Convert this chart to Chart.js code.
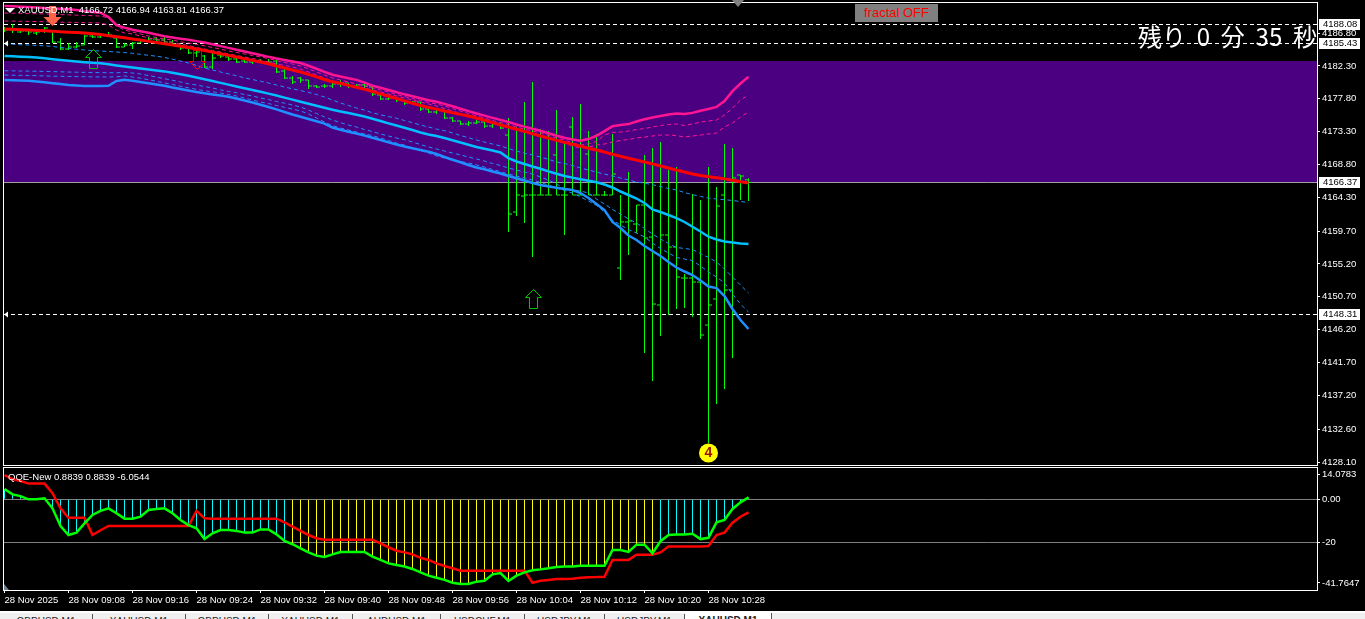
<!DOCTYPE html>
<html>
<head>
<meta charset="utf-8">
<title>XAUUSD,M1</title>
<script src="https://cdn.jsdelivr.net/npm/chart.js@4"></script>
<style>
html, body { margin: 0; padding: 0; width: 1365px; height: 619px; overflow: hidden; background: #000; }
canvas { position: absolute; left: 0; }
#main { top: 0; }
#sub { top: 466px; }
.lbl { position: absolute; color: #fff; font: 9.5px "Liberation Sans", sans-serif; white-space: pre; line-height: 12px; }
#head { left: 18px; top: 4px; }
#qqe { left: 8px; top: 471px; }
#timer { left: 1138px; top: 20px; width: 179px; height: 34px; overflow: hidden; font: 24px/32px "Noto Sans CJK JP", sans-serif; }
#fractal { left: 855px; top: 4px; width: 83px; height: 18px; background: #808080; color: #ff0000; font: 13px/18px "Liberation Sans", sans-serif; text-align: center; }
#tri { position: absolute; left: 732px; top: 0; width: 0; height: 0; border-left: 6px solid transparent; border-right: 6px solid transparent; border-top: 7px solid #808080; }
#mark { position: absolute; left: 5px; top: 8px; width: 0; height: 0; border-left: 5px solid transparent; border-right: 5px solid transparent; border-top: 5px solid #fff; }
#tabs { position: absolute; left: 0; top: 611px; width: 1365px; height: 8px; background: #f0f0f0; border-top: 2px solid #fff; overflow: hidden; box-sizing: border-box; }
.tab { position: absolute; top: 1px; height: 12px; border-right: 1px solid #555; color: #222; font: 10px/12px "Liberation Sans", sans-serif; text-align: center; padding-top: 2px; box-sizing: content-box; }
.tab.on { background: #fff; font-weight: bold; top: 0; }
</style>
</head>
<body>
<canvas id="main" width="1365" height="466"></canvas>
<canvas id="sub" width="1365" height="146"></canvas>
<div id="mark"></div>
<div id="head" class="lbl">XAUUSD,M1  4166.72 4166.94 4163.81 4166.37</div>
<div id="qqe" class="lbl">QQE-New 0.8839 0.8839 -6.0544</div>
<div id="timer" class="lbl">残り  0  分  35  秒</div>
<div id="fractal" class="lbl">fractal OFF</div>
<div id="tri"></div>
<div id="tabs"></div>
<script>
var timeLabels = ["28 Nov 2025", "28 Nov 09:08", "28 Nov 09:16", "28 Nov 09:24", "28 Nov 09:32", "28 Nov 09:40", "28 Nov 09:48", "28 Nov 09:56", "28 Nov 10:04", "28 Nov 10:12", "28 Nov 10:20", "28 Nov 10:28"];
var priceTicks = [4186.80, 4182.30, 4177.80, 4173.30, 4168.80, 4164.30, 4159.70, 4155.20, 4150.70, 4146.20, 4141.70, 4137.20, 4132.60, 4128.10];
var priceBoxes = [4188.08, 4185.43, 4166.37, 4148.31];
var tabNames = ["GBPUSD,M1", "XAUUSD,M1", "GBPUSD,M1", "XAUUSD,M1", "AUDUSD,M1", "USDCHF,M1", "USDJPY,M1", "USDJPY,M1", "XAUUSD,M1"];

var opens = [4187.36,4187.22,4186.95,4187.09,4186.81,4187.22,4187.09,4185.58,4184.62,4184.90,4185.17,4186.40,4186.27,4186.54,4186.13,4184.90,4185.17,4185.45,4185.72,4185.99,4185.86,4185.58,4185.31,4184.76,4184.08,4183.67,4182.16,4183.80,4183.53,4183.26,4182.98,4182.84,4182.98,4182.84,4182.98,4181.61,4180.65,4180.65,4180.38,4179.56,4179.56,4179.56,4179.83,4179.97,4179.56,4179.70,4179.42,4178.33,4177.78,4177.92,4177.64,4177.23,4177.37,4176.41,4176.00,4176.27,4175.18,4174.77,4174.36,4174.50,4174.63,4174.08,4174.36,4172.85,4162.31,4164.50,4164.64,4164.64,4164.64,4170.12,4164.64,4173.95,4164.64,4170.25,4164.64,4164.64,4164.64,4154.65,4160.95,4160.67,4163.27,4158.89,4149.59,4159.17,4157.52,4153.28,4153.28,4152.73,4146.85,4150.41,4164.64,4151.64,4167.38,4166.72];
var highs = [4187.63,4188.05,4187.36,4187.22,4187.36,4187.63,4187.22,4186.13,4185.45,4185.58,4186.54,4186.54,4186.81,4186.95,4186.13,4185.45,4185.58,4185.86,4186.27,4186.27,4186.27,4185.86,4185.17,4184.76,4184.62,4183.80,4184.21,4184.21,4183.80,4183.39,4183.12,4183.12,4183.26,4183.26,4183.12,4181.89,4180.93,4180.79,4180.38,4179.70,4179.83,4180.11,4180.38,4179.97,4179.83,4179.83,4179.42,4178.60,4178.05,4177.92,4177.64,4177.51,4177.37,4176.55,4176.41,4176.27,4175.32,4174.77,4174.77,4174.91,4174.63,4174.50,4174.63,4175.18,4173.95,4177.37,4180.11,4173.67,4173.40,4176.27,4171.76,4175.32,4177.10,4173.40,4172.99,4165.19,4172.99,4164.64,4167.79,4163.27,4170.12,4171.07,4171.89,4168.06,4168.47,4153.83,4164.78,4163.96,4168.47,4165.74,4171.62,4171.07,4167.38,4166.94];
var lows = [4186.95,4186.81,4186.81,4186.54,4186.54,4186.81,4185.45,4184.49,4184.49,4184.76,4185.17,4186.13,4186.13,4186.40,4184.76,4184.90,4184.62,4185.45,4185.58,4185.58,4185.45,4185.17,4184.49,4183.94,4183.53,4182.02,4181.89,4183.39,4182.98,4182.71,4182.71,4182.57,4182.71,4182.71,4181.34,4180.52,4179.83,4179.97,4179.15,4179.29,4179.29,4179.29,4179.42,4179.29,4179.42,4179.29,4178.19,4177.64,4177.64,4177.37,4176.96,4177.10,4176.14,4175.86,4175.73,4175.04,4174.63,4174.22,4174.08,4174.36,4173.81,4173.81,4173.67,4159.58,4161.77,4160.81,4156.15,4164.64,4164.64,4164.64,4159.17,4164.64,4164.64,4164.64,4164.64,4164.50,4164.64,4153.01,4156.43,4159.44,4143.01,4139.18,4145.34,4148.22,4149.04,4149.17,4147.94,4144.93,4130.70,4136.04,4138.09,4142.33,4163.96,4163.81];
var closes = [4187.22,4187.22,4187.09,4186.95,4186.95,4187.50,4185.58,4184.62,4184.90,4185.03,4186.40,4186.27,4186.54,4186.54,4184.90,4185.17,4185.45,4185.72,4185.99,4185.86,4185.58,4185.31,4184.76,4184.08,4184.21,4182.16,4183.39,4183.67,4183.26,4182.84,4182.84,4182.98,4182.84,4182.84,4181.48,4180.65,4180.11,4180.38,4179.56,4179.42,4179.56,4179.83,4179.97,4179.56,4179.70,4179.56,4178.46,4177.78,4177.92,4177.64,4177.23,4177.37,4176.41,4176.00,4176.27,4175.18,4174.77,4174.36,4174.50,4174.63,4174.08,4174.36,4173.81,4162.04,4164.64,4164.64,4164.64,4164.64,4164.64,4164.64,4164.64,4164.64,4164.64,4164.64,4164.64,4164.64,4167.51,4160.95,4161.08,4163.27,4158.76,4149.72,4159.17,4157.52,4153.42,4153.28,4152.73,4145.48,4149.59,4163.13,4151.64,4166.97,4167.24,4166.37];

var redMa = [4187.36,4187.32,4187.27,4187.22,4187.17,4187.11,4187.07,4186.97,4186.93,4186.88,4186.80,4186.72,4186.60,4186.45,4186.30,4186.15,4186.00,4185.85,4185.67,4185.50,4185.33,4185.17,4185.00,4184.83,4184.62,4184.42,4184.20,4183.98,4183.75,4183.53,4183.30,4183.07,4182.85,4182.60,4182.30,4182.02,4181.75,4181.48,4181.15,4180.80,4180.45,4180.13,4179.93,4179.65,4179.38,4179.10,4178.80,4178.48,4178.15,4177.85,4177.52,4177.20,4176.90,4176.62,4176.40,4176.13,4175.90,4175.68,4175.46,4175.18,4174.87,4174.55,4174.22,4173.95,4173.65,4173.35,4173.03,4172.72,4172.42,4172.12,4171.85,4171.60,4171.33,4171.05,4170.80,4170.52,4170.22,4169.95,4169.68,4169.42,4169.15,4168.90,4168.61,4168.33,4168.05,4167.78,4167.52,4167.30,4167.15,4167.00,4166.85,4166.65,4166.45,4166.30];
var pinkTop = [4190.51,4190.46,4190.41,4190.36,4190.30,4190.24,4190.18,4190.13,4190.08,4189.96,4189.83,4189.70,4189.59,4189.00,4187.88,4187.55,4187.25,4187.05,4186.85,4186.62,4186.38,4186.20,4186.03,4185.88,4185.70,4185.50,4185.28,4185.02,4184.78,4184.52,4184.27,4184.03,4183.80,4183.55,4183.33,4183.12,4182.92,4182.71,4182.33,4181.92,4181.50,4181.10,4180.85,4180.62,4180.40,4180.02,4179.60,4179.32,4179.02,4178.72,4178.42,4178.15,4177.88,4177.62,4177.40,4177.12,4176.78,4176.45,4176.12,4175.80,4175.50,4175.20,4174.92,4174.63,4174.30,4174.00,4173.72,4173.44,4173.10,4172.75,4172.48,4172.25,4172.07,4172.30,4172.75,4173.38,4174.05,4174.22,4174.35,4174.70,4175.02,4175.25,4175.45,4175.65,4175.80,4175.74,4175.88,4176.18,4176.42,4176.70,4177.50,4178.85,4179.90,4180.83];
var pinkDash1 = [4189.55,4189.52,4189.50,4189.47,4189.45,4189.42,4189.38,4189.33,4189.30,4189.25,4189.22,4189.18,4189.13,4188.87,4187.77,4187.22,4186.95,4186.68,4186.40,4186.20,4186.00,4185.85,4185.60,4185.45,4185.25,4185.05,4184.83,4184.62,4184.35,4184.15,4183.95,4183.73,4183.53,4183.33,4183.05,4182.78,4182.57,4182.30,4181.90,4181.48,4181.07,4180.65,4180.38,4180.10,4179.83,4179.56,4179.28,4179.00,4178.74,4178.40,4178.12,4177.85,4177.57,4177.30,4177.10,4176.82,4176.48,4176.14,4175.80,4175.45,4175.18,4174.84,4174.56,4174.29,4173.95,4173.67,4173.40,4173.13,4172.78,4172.44,4172.17,4171.76,4171.48,4171.62,4171.96,4172.85,4173.20,4173.26,4173.40,4173.60,4173.74,4173.95,4174.15,4174.29,4174.36,4174.15,4174.36,4174.63,4174.77,4174.90,4175.59,4176.55,4177.64,4178.33];
var pinkDash2 = [4188.46,4188.44,4188.42,4188.40,4188.38,4188.36,4188.33,4188.30,4188.28,4188.26,4188.24,4188.21,4188.18,4187.91,4187.22,4186.81,4186.68,4186.40,4186.13,4185.92,4185.72,4185.51,4185.31,4185.10,4184.83,4184.62,4184.41,4184.21,4183.94,4183.73,4183.53,4183.32,4183.12,4182.84,4182.57,4182.37,4182.16,4181.89,4181.48,4181.07,4180.65,4180.24,4179.97,4179.70,4179.49,4179.29,4179.01,4178.74,4178.46,4178.19,4177.92,4177.64,4177.37,4177.10,4176.82,4176.48,4176.14,4175.80,4175.38,4175.04,4174.77,4174.50,4174.15,4173.88,4173.54,4173.26,4172.99,4172.72,4172.37,4172.03,4171.76,4171.35,4171.07,4171.21,4171.48,4171.62,4171.89,4172.10,4172.24,4172.44,4172.58,4172.72,4172.85,4172.85,4172.78,4172.58,4172.72,4172.85,4172.99,4173.13,4173.95,4174.50,4175.32,4176.00];
var cyanBand = [4183.67,4183.63,4183.58,4183.53,4183.46,4183.35,4183.23,4183.12,4183.01,4182.91,4182.82,4182.73,4182.67,4182.53,4182.37,4182.23,4182.08,4181.95,4181.82,4181.69,4181.56,4181.38,4181.17,4180.96,4180.72,4180.49,4180.24,4179.99,4179.75,4179.50,4179.26,4179.01,4178.77,4178.52,4178.25,4177.97,4177.70,4177.41,4177.14,4176.86,4176.58,4176.30,4176.07,4175.86,4175.63,4175.38,4175.08,4174.77,4174.45,4174.15,4173.85,4173.54,4173.19,4172.92,4172.71,4172.44,4172.14,4171.83,4171.51,4171.21,4170.96,4170.73,4170.46,4169.70,4169.23,4168.88,4168.54,4168.23,4167.88,4167.56,4167.24,4167.02,4166.80,4166.60,4166.38,4166.08,4165.67,4165.12,4164.64,4164.16,4163.55,4162.66,4162.31,4161.90,4161.49,4160.95,4160.30,4159.65,4158.93,4158.55,4158.28,4158.14,4158.00,4157.93];
var blueBand = [4180.38,4180.35,4180.31,4180.27,4180.19,4180.07,4179.94,4179.82,4179.70,4179.63,4179.56,4179.55,4179.56,4179.59,4180.24,4180.41,4180.27,4180.11,4179.94,4179.77,4179.60,4179.36,4179.15,4178.94,4178.74,4178.56,4178.41,4178.25,4178.08,4177.86,4177.57,4177.30,4176.99,4176.69,4176.36,4176.00,4175.66,4175.36,4175.04,4174.73,4174.41,4173.88,4173.58,4173.31,4173.07,4172.78,4172.48,4172.17,4171.85,4171.55,4171.28,4171.03,4170.80,4170.55,4170.25,4169.84,4169.47,4169.12,4168.75,4168.40,4168.16,4167.86,4167.58,4167.24,4166.93,4166.63,4166.28,4166.01,4165.80,4165.63,4165.46,4165.33,4164.91,4164.23,4163.41,4162.59,4160.95,4160.12,4159.10,4158.48,4157.66,4156.97,4156.29,4155.47,4154.72,4154.17,4153.69,4152.94,4152.12,4151.91,4150.82,4149.04,4147.53,4146.30];
var blueDash1 = [4185.31,4185.27,4185.21,4185.17,4185.12,4185.06,4184.97,4184.83,4184.71,4184.60,4184.49,4184.40,4184.35,4184.28,4184.21,4184.13,4184.04,4183.90,4183.76,4183.64,4183.46,4183.23,4182.98,4182.71,4182.37,4182.02,4181.75,4181.48,4181.23,4180.96,4180.68,4180.44,4180.22,4179.97,4179.70,4179.42,4179.18,4178.94,4178.67,4178.40,4178.05,4177.64,4177.23,4176.89,4176.55,4176.27,4175.89,4175.62,4175.38,4175.14,4174.84,4174.54,4174.22,4173.95,4173.67,4173.44,4173.13,4172.78,4172.48,4172.17,4171.89,4171.62,4171.35,4171.00,4170.66,4170.36,4170.12,4169.84,4169.53,4169.16,4168.95,4168.68,4168.34,4168.06,4167.79,4167.51,4167.24,4166.97,4166.69,4166.42,4166.26,4166.05,4165.80,4165.53,4165.33,4164.98,4164.68,4164.44,4164.23,4164.09,4164.00,4163.89,4163.75,4163.61];
var blueDash2 = [4181.65,4181.63,4181.61,4181.60,4181.58,4181.55,4181.53,4181.50,4181.47,4181.45,4181.43,4181.41,4181.39,4181.38,4181.37,4181.41,4181.34,4181.20,4180.99,4180.79,4180.56,4180.34,4180.11,4179.86,4179.70,4179.49,4179.29,4179.04,4178.81,4178.64,4178.40,4178.19,4177.92,4177.71,4177.44,4177.21,4176.96,4176.69,4176.27,4175.80,4175.32,4174.91,4174.54,4174.22,4173.95,4173.60,4173.33,4172.99,4172.72,4172.44,4172.21,4171.89,4171.55,4171.21,4170.94,4170.66,4170.39,4170.12,4169.84,4169.57,4169.29,4168.95,4168.68,4168.34,4168.06,4167.79,4167.51,4167.10,4166.69,4166.15,4165.53,4165.33,4165.19,4164.91,4164.09,4163.41,4162.66,4162.04,4161.36,4160.81,4160.06,4159.30,4158.62,4158.00,4157.46,4157.32,4157.18,4156.63,4156.09,4155.47,4154.51,4153.42,4152.32,4151.23];
var blueDash3 = [4181.06,4181.04,4181.02,4181.00,4180.97,4180.94,4180.91,4180.89,4180.87,4180.85,4180.83,4180.81,4180.80,4180.79,4180.82,4180.93,4180.79,4180.63,4180.42,4180.20,4179.99,4179.76,4179.53,4179.31,4179.11,4178.92,4178.77,4178.60,4178.40,4178.19,4177.92,4177.64,4177.37,4177.16,4176.89,4176.64,4176.41,4176.14,4175.73,4175.18,4174.63,4174.15,4173.81,4173.54,4173.26,4172.99,4172.78,4172.44,4172.10,4171.76,4171.48,4171.07,4170.73,4170.39,4169.98,4169.70,4169.47,4169.23,4169.02,4168.75,4168.47,4168.13,4167.83,4167.51,4167.24,4166.97,4166.69,4166.35,4166.01,4165.60,4165.26,4164.91,4164.37,4163.82,4163.20,4162.31,4161.22,4160.53,4159.92,4159.44,4158.89,4158.07,4157.32,4156.70,4156.09,4155.88,4155.68,4154.92,4154.10,4153.42,4152.60,4151.09,4149.72,4148.63];

var qqeFast = [4.8,2.3,1.5,0,0,0.45,-4.2,-12.4,-16.6,-15.5,-11.2,-7.3,-5.4,-4.2,-6.5,-9.0,-9.0,-8.1,-5.0,-4.5,-4.2,-6.5,-9.6,-12.0,-13.5,-18.5,-15.8,-14.3,-14.3,-14.7,-15.5,-15.5,-14.0,-14.0,-16.3,-19.4,-20.9,-22.8,-24.7,-26.2,-26.8,-25.6,-24.5,-24.5,-24.5,-24.5,-26.7,-28.2,-29.8,-30.6,-31.3,-32.4,-34.0,-35.5,-36.5,-37.5,-38.8,-39.4,-39.4,-38.3,-37.9,-34.9,-34.3,-38.0,-35.5,-34.0,-33.0,-32.6,-32.1,-31.5,-31.3,-31.3,-30.9,-30.9,-30.9,-30.9,-23.6,-23.6,-24.5,-21.1,-21.1,-25.1,-19.5,-16.6,-16.4,-16.4,-16.0,-18.5,-17.9,-10.7,-9.6,-4.5,-1.4,0.8839];
var qqeSlow = [11.3,9.4,8.5,7.3,7.3,7.3,2.8,-4.2,-8.6,-8.6,-8.6,-16.6,-14.4,-12.4,-12.4,-12.4,-12.4,-12.4,-12.4,-12.4,-12.4,-12.4,-12.4,-12.4,-5.4,-8.8,-9.0,-9.0,-9.0,-9.0,-9.0,-9.0,-9.0,-9.0,-9.0,-10.7,-12.7,-14.7,-16.6,-18.1,-18.8,-18.8,-18.8,-18.8,-18.8,-18.8,-18.8,-20.5,-22.3,-23.9,-24.7,-25.6,-27.2,-28.2,-29.8,-31.0,-32.1,-33.2,-33.2,-33.2,-33.2,-33.2,-33.2,-33.2,-33.2,-33.2,-38.8,-37.9,-37.5,-37.1,-37.1,-37.0,-36.5,-36.3,-36.2,-36.0,-28.2,-28.2,-28.2,-25.8,-25.8,-25.8,-24.7,-22.0,-22.0,-22.0,-22.0,-22.0,-21.7,-16.6,-15.5,-10.9,-8.1,-6.0544];
var qqeLevels = [0, -20];
var subTicks = [11.49, 0, -20, -38.9]; // 上下兩個標籤在 MT4 是夾在面板內的，所以位置跟數值不同
var subTickLabels = ["14.0783", "0.00", "-20", "-41.7647"];

var BAR_MIN = -0.0625, BAR_MAX = 164.0625; // 8px 一根
var LIME = "#00ff00", PINK = "#ff1493", CYAN = "#00bfff", BLUE = "#1e90ff";
var zone = [4182.98, 4166.42];
var dashLevels = [4188.08, 4185.43, 4148.31];
var lastPrice = 4166.37;

function pts(arr) { return arr.map(function (v, i) { return { x: i, y: v }; }); }
function lineDs(arr, color, width, dash, order) {
  return { type: "line", data: pts(arr), borderColor: color, borderWidth: width, borderDash: dash || [], pointRadius: 0, tension: 0, order: order };
}
function tickDs(arr, rot) {
  return { type: "line", data: pts(arr), showLine: false, pointStyle: "dash", pointRadius: 3.5, pointRotation: rot, pointBorderColor: LIME, pointBorderWidth: 1, order: 20 };
}
function noPad(s) { s.paddingLeft = 0; s.paddingRight = 0; s.paddingTop = 0; s.paddingBottom = 0; }
function xScale(extra) {
  var o = { type: "linear", min: BAR_MIN, max: BAR_MAX, offset: false, display: false, grid: { offset: false } };
  for (var k in extra) o[k] = extra[k];
  return o;
}

function hollowArrow(ctx, cx, tip, dir, stroke) {
  // dir=1 向下, dir=-1 向上
  ctx.strokeStyle = stroke; ctx.lineWidth = 1;
  ctx.beginPath();
  ctx.moveTo(cx, tip);
  ctx.lineTo(cx - 8, tip - dir * 8);
  ctx.lineTo(cx - 4, tip - dir * 8);
  ctx.lineTo(cx - 4, tip - dir * 19);
  ctx.lineTo(cx + 4, tip - dir * 19);
  ctx.lineTo(cx + 4, tip - dir * 8);
  ctx.lineTo(cx + 8, tip - dir * 8);
  ctx.closePath();
  ctx.stroke();
}

var mainPaint = {
  id: "mainPaint",
  beforeDatasetsDraw: function (c) {
    var y = c.scales.y, a = c.chartArea, ctx = c.ctx;
    ctx.save();
    ctx.fillStyle = "#4b0082";
    var t = Math.round(y.getPixelForValue(zone[0])), b = Math.round(y.getPixelForValue(zone[1]));
    ctx.fillRect(a.left, t, a.right - a.left, b - t);
    ctx.strokeStyle = "#fff"; ctx.lineWidth = 1; ctx.setLineDash([4, 3]);
    dashLevels.forEach(function (v) {
      var p = Math.round(y.getPixelForValue(v)) + 0.5;
      ctx.beginPath(); ctx.moveTo(a.left, p); ctx.lineTo(a.right, p); ctx.stroke();
    });
    ctx.setLineDash([]);
    ctx.strokeStyle = "#a0a0a0";
    var lp = Math.round(y.getPixelForValue(lastPrice)) + 0.5;
    ctx.beginPath(); ctx.moveTo(a.left, lp); ctx.lineTo(a.right, lp); ctx.stroke();
    ctx.restore();
  },
  afterDraw: function (c) {
    var x = c.scales.x, y = c.scales.y, a = c.chartArea, ctx = c.ctx;
    ctx.save();
    // 箭頭
    hollowArrow(ctx, Math.round(x.getPixelForValue(11)) + 0.5, Math.round(y.getPixelForValue(4184.62)) + 0.5, -1, "#00c000");
    hollowArrow(ctx, Math.round(x.getPixelForValue(66)) + 0.5, Math.round(y.getPixelForValue(4151.77)) + 0.5, -1, "#00c000");
    hollowArrow(ctx, Math.round(x.getPixelForValue(24)) + 0.5, Math.round(y.getPixelForValue(4181.90)) + 0.5, 1, "#f00000");
    var ox = x.getPixelForValue(6), oy = y.getPixelForValue(4187.77);
    ctx.fillStyle = "#ff6347";
    ctx.beginPath();
    ctx.moveTo(ox, oy); ctx.lineTo(ox - 9, oy - 9); ctx.lineTo(ox - 3.5, oy - 9); ctx.lineTo(ox - 3.5, oy - 20);
    ctx.lineTo(ox + 3.5, oy - 20); ctx.lineTo(ox + 3.5, oy - 9); ctx.lineTo(ox + 9, oy - 9);
    ctx.closePath(); ctx.fill();
    // 黃色圓點
    var cx = x.getPixelForValue(88), cy = y.getPixelForValue(4129.33);
    ctx.fillStyle = "#ffff00";
    ctx.beginPath(); ctx.arc(cx, cy, 9.5, 0, Math.PI * 2); ctx.fill();
    ctx.fillStyle = "#a01000"; ctx.font = "bold 14px 'Liberation Sans', sans-serif";
    ctx.textAlign = "center"; ctx.textBaseline = "middle";
    ctx.fillText("4", cx, cy + 0.5);
    // 左邊小箭頭
    ctx.fillStyle = "#fff";
    [dashLevels[1], dashLevels[2]].forEach(function (v) {
      var p = Math.round(y.getPixelForValue(v)) + 0.5;
      ctx.beginPath(); ctx.moveTo(a.left, p); ctx.lineTo(a.left + 4, p - 3); ctx.lineTo(a.left + 4, p + 3); ctx.closePath(); ctx.fill();
    });
    // 外框
    ctx.strokeStyle = "#fff"; ctx.lineWidth = 1;
    ctx.strokeRect(a.left - 0.5, a.top - 0.5, a.right - a.left + 1, a.bottom - a.top + 1);
    // 價格標籤
    ctx.font = "9.5px 'Liberation Sans', sans-serif"; ctx.textAlign = "left"; ctx.textBaseline = "middle";
    priceBoxes.forEach(function (v) {
      var p = Math.round(y.getPixelForValue(v));
      ctx.fillStyle = "#fff"; ctx.fillRect(a.right + 2, p - 5, 41, 11);
      ctx.fillStyle = "#000"; ctx.fillText(v.toFixed(2), a.right + 6, p + 0.5);
    });
    ctx.restore();
  },
};

var subPaint = {
  id: "subPaint",
  beforeDatasetsDraw: function (c) {
    var y = c.scales.y, a = c.chartArea, ctx = c.ctx;
    ctx.save();
    ctx.strokeStyle = "#808080"; ctx.lineWidth = 1;
    qqeLevels.forEach(function (v) {
      var p = Math.round(y.getPixelForValue(v)) + 0.5;
      ctx.beginPath(); ctx.moveTo(a.left, p); ctx.lineTo(a.right, p); ctx.stroke();
    });
    ctx.restore();
  },
  afterDraw: function (c) {
    var a = c.chartArea, ctx = c.ctx;
    ctx.save();
    ctx.fillStyle = "#708090";
    ctx.beginPath(); ctx.moveTo(a.left, a.bottom - 6); ctx.lineTo(a.left + 5, a.bottom); ctx.lineTo(a.left, a.bottom); ctx.closePath(); ctx.fill();
    ctx.strokeStyle = "#fff"; ctx.lineWidth = 1;
    ctx.strokeRect(a.left - 0.5, a.top - 0.5, a.right - a.left + 1, a.bottom - a.top + 1);
    ctx.restore();
  },
};

Chart.defaults.animation = false;
Chart.defaults.responsive = false;
Chart.defaults.font.family = "'Liberation Sans', sans-serif";
Chart.defaults.font.size = 9.5;
Chart.defaults.color = "#fff";
Chart.defaults.plugins.legend.display = false;
Chart.defaults.plugins.tooltip.enabled = false;

new Chart(document.getElementById("main"), {
  type: "bar",
  data: {
    datasets: [
      { type: "bar", data: lows.map(function (l, i) { return { x: i, y: [l, highs[i]] }; }), backgroundColor: LIME, barThickness: 1, inflateAmount: 0, grouped: false, order: 21 },
      tickDs(opens, 180),
      tickDs(closes, 0),
      lineDs(pinkDash1, PINK, 1, [4, 3], 10),
      lineDs(pinkDash2, PINK, 1, [4, 3], 10),
      lineDs(blueDash1, BLUE, 1, [4, 3], 10),
      lineDs(blueDash2, BLUE, 1, [4, 3], 10),
      lineDs(blueDash3, BLUE, 1, [4, 3], 10),
      lineDs(blueBand, BLUE, 2.5, null, 5),
      lineDs(cyanBand, CYAN, 2.5, null, 4),
      lineDs(pinkTop, PINK, 2.5, null, 3),
      lineDs(redMa, "#ff0000", 3, null, 2),
    ],
  },
  options: {
    layout: { autoPadding: false, padding: { left: 4, right: 0, top: 3, bottom: 1 } },
    scales: {
      x: xScale({ ticks: { display: false }, afterFit: function (s) { s.height = 0; noPad(s); } }),
      y: {
        position: "right", min: 4127.69, max: 4190.92,
        afterBuildTicks: function (s) { s.ticks = priceTicks.map(function (v) { return { value: v }; }); },
        afterFit: function (s) { s.width = 48; noPad(s); },
        ticks: { autoSkip: false, padding: 2, callback: function (v) { return v.toFixed(2); } },
        grid: { drawOnChartArea: false, tickLength: 3, color: "#fff" },
        border: { display: false },
      },
    },
  },
  plugins: [mainPaint],
});

new Chart(document.getElementById("sub"), {
  type: "bar",
  data: {
    datasets: [
      { type: "bar", data: qqeFast.map(function (v, i) { return { x: i, y: [0, v] }; }),
        backgroundColor: qqeFast.map(function (v, i) { return i >= 36 && i <= 81 ? "#ffff00" : "#00ffff"; }),
        barThickness: 1, inflateAmount: 0, grouped: false, order: 5 },
      lineDs(qqeSlow, "#ff0000", 2.5, null, 2),
      lineDs(qqeFast, LIME, 2.5, null, 1),
    ],
  },
  options: {
    layout: { autoPadding: false, padding: { left: 4, right: 0, top: 2, bottom: 0 } },
    scales: {
      x: xScale({
        display: true,
        afterBuildTicks: function (s) { s.ticks = timeLabels.map(function (t, i) { return { value: i * 8 }; }); },
        ticks: { autoSkip: false, maxRotation: 0, minRotation: 0, align: "start", padding: 2, callback: function (v, i) { return timeLabels[i]; } },
        grid: { drawOnChartArea: false, tickLength: 3, color: "#fff", offset: false },
        border: { display: false },
        afterFit: function (s) { s.height = 22; noPad(s); },
      }),
      y: {
        position: "right", min: -42.19, max: 14.56,
        afterBuildTicks: function (s) { s.ticks = subTicks.map(function (v) { return { value: v }; }); },
        afterFit: function (s) { s.width = 48; noPad(s); },
        ticks: { autoSkip: false, padding: 2, callback: function (v, i) { return subTickLabels[i]; } },
        grid: { drawOnChartArea: false, tickLength: 3, color: "#fff" },
        border: { display: false },
      },
    },
  },
  plugins: [subPaint],
});

// 底部分頁
var tabEdges = [0, 93, 186, 269, 353, 441, 525, 605, 685, 772];
var tabs = document.getElementById("tabs");
tabNames.forEach(function (n, i) {
  var d = document.createElement("div");
  d.className = "tab" + (i === tabNames.length - 1 ? " on" : "");
  d.style.left = tabEdges[i] + "px";
  d.style.width = (tabEdges[i + 1] - tabEdges[i] - 1) + "px";
  d.textContent = n;
  tabs.appendChild(d);
});
</script>
</body>
</html>
